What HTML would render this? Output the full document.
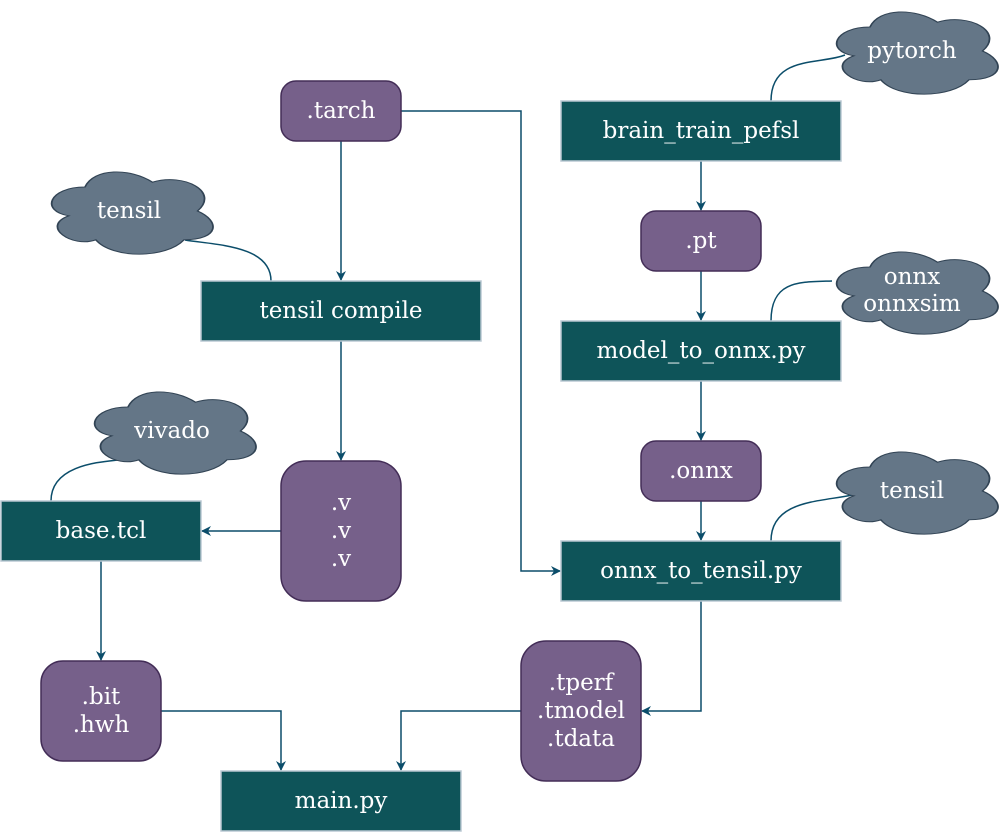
<!DOCTYPE html>
<html><head><meta charset="utf-8"><style>
html,body{margin:0;padding:0;background:#fff}
</style></head><body>
<svg width="1006" height="832" viewBox="0 0 1006 832" xmlns="http://www.w3.org/2000/svg">
<defs>
<marker id="a" markerWidth="10" markerHeight="10" refX="9" refY="5" orient="auto" markerUnits="userSpaceOnUse">
<path d="M0,0 L10,5 L0,10 L3,5 Z" fill="#0B4D6A"/></marker>
<path id="cl" d="M0.25,0.25 C0.05,0.25 0,0.5 0.16,0.55 C0,0.66 0.18,0.89 0.31,0.8 C0.4,1 0.7,1 0.8,0.8 C1,0.8 1,0.6 0.875,0.5 C1,0.3 0.8,0.1 0.625,0.2 C0.5,0.05 0.3,0.05 0.25,0.25 Z"/>
</defs>
<g fill="none" stroke="#0B4D6A" stroke-width="1.5">
<path d="M341,141 V280" marker-end="url(#a)"/>
<path d="M401,111 H521 V571 H560" marker-end="url(#a)"/>
<path d="M701,161 V210" marker-end="url(#a)"/>
<path d="M701,271 V320" marker-end="url(#a)"/>
<path d="M701,381 V440" marker-end="url(#a)"/>
<path d="M701,501 V540" marker-end="url(#a)"/>
<path d="M701,601 V711 H642" marker-end="url(#a)"/>
<path d="M341,341 V460" marker-end="url(#a)"/>
<path d="M281,531 H202" marker-end="url(#a)"/>
<path d="M101,561 V660" marker-end="url(#a)"/>
<path d="M161,711 H281 V770" marker-end="url(#a)"/>
<path d="M521,711 H401 V770" marker-end="url(#a)"/>
<path d="M771,101 C771,55 820,65 845,55"/>
<path d="M271,281 C271,245 215,245 185,240"/>
<path d="M51,501 C51,465 100,462 118,460"/>
<path d="M771,321 C771,280 800,282 832,281"/>
<path d="M771,541 C771,500 820,502 852,495"/>
</g>
<g fill="#647687" stroke="#314354" stroke-width="0.01">
<use href="#cl" transform="translate(825,3) scale(180,96)"/>
<use href="#cl" transform="translate(825,243) scale(180,96)"/>
<use href="#cl" transform="translate(825,443) scale(180,96)"/>
<use href="#cl" transform="translate(40,163) scale(180,96)"/>
<use href="#cl" transform="translate(83,383) scale(180,96)"/>
</g>
<g fill="#0E5459" stroke="#BAC8D3" stroke-width="1.5">
<rect x="561" y="101" width="280" height="60"/>
<rect x="561" y="321" width="280" height="60"/>
<rect x="561" y="541" width="280" height="60"/>
<rect x="201" y="281" width="280" height="60"/>
<rect x="1" y="501" width="200" height="60"/>
<rect x="221" y="771" width="240" height="60"/>
</g>
<g fill="#76608A" stroke="#432D57" stroke-width="1.5">
<rect x="281" y="81" width="120" height="60" rx="15"/>
<rect x="641" y="211" width="120" height="60" rx="15"/>
<rect x="641" y="441" width="120" height="60" rx="15"/>
<rect x="281" y="461" width="120" height="140" rx="25"/>
<rect x="41" y="661" width="120" height="100" rx="22"/>
<rect x="521" y="641" width="120" height="140" rx="25"/>
</g>
<g font-family="DejaVu Serif, Liberation Serif, serif" font-size="23" fill="#ffffff" text-anchor="middle" dominant-baseline="central">
<text x="912" y="51">pytorch</text>
<text x="912" y="277">onnx</text><text x="912" y="304">onnxsim</text>
<text x="912" y="491">tensil</text>
<text x="129" y="211">tensil</text>
<text x="172" y="431">vivado</text>
<text x="701" y="131">brain_train_pefsl</text>
<text x="701" y="351">model_to_onnx.py</text>
<text x="701" y="571">onnx_to_tensil.py</text>
<text x="341" y="311">tensil compile</text>
<text x="101" y="531">base.tcl</text>
<text x="341" y="801">main.py</text>
<text x="341" y="111">.tarch</text>
<text x="701" y="241">.pt</text>
<text x="701" y="471">.onnx</text>
<text x="341" y="503">.v</text><text x="341" y="531">.v</text><text x="341" y="559">.v</text>
<text x="101" y="697">.bit</text><text x="101" y="725">.hwh</text>
<text x="581" y="683">.tperf</text><text x="581" y="711">.tmodel</text><text x="581" y="739">.tdata</text>
</g>
</svg>
</body></html>
